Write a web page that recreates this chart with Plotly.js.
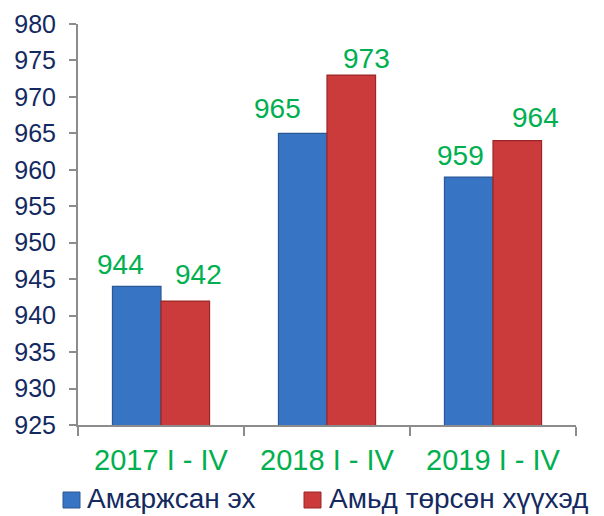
<!DOCTYPE html>
<html>
<head>
<meta charset="utf-8">
<script src="https://cdn.plot.ly/plotly-3.0.1.min.js"></script>
<style>html,body{margin:0;padding:0;background:#fff;}#chart{width:604px;height:516px;}</style>
</head>
<body>
<div id="chart"></div>
<script>
const categories = ["2017 I - IV", "2018 I - IV", "2019 I - IV"];
const seriesNames = ["Амаржсан эх", "Амьд төрсөн хүүхэд"];
const mothers = [944, 965, 959];
const liveBirths = [942, 973, 964];

// label placement tweaks (pixels), matching the reference's label positions
const labelDX = [[-41, -50, -33], [37, 39, 42]];
const labelGap = [[13, 16, 13], [18, 8, 15]];

const FONT = '"Liberation Sans", Arial, sans-serif';
const NAVY = '#14295f';
const GREEN = '#00b050';
const FILL = ['#3874c4', '#cb3b3b'];
const EDGE = ['#2a5896', '#9c2727'];

const W = 604, H = 516;
const M = {l: 78, r: 28, t: 24, b: 91};
const PW = W - M.l - M.r, PH = H - M.t - M.b;
const px = v => (v - M.l) / PW;       // pixel -> paper x
const py = v => (H - M.b - v) / PH;   // pixel -> paper y

const traces = [mothers, liveBirths].map((vals, s) => ({
  type: 'bar', name: seriesNames[s], x: categories, y: vals,
  marker: {color: FILL[s], line: {color: EDGE[s], width: 1.2}}
}));

const annotations = [];
[mothers, liveBirths].forEach((vals, s) => {
  vals.forEach((v, i) => {
    annotations.push({
      x: categories[i], y: v, xref: 'x', yref: 'y',
      text: String(v), showarrow: false,
      xanchor: 'center', yanchor: 'bottom',
      xshift: labelDX[s][i], yshift: labelGap[s][i] - 9,
      font: {family: FONT, size: 28, color: GREEN}
    });
  });
});

// legend (drawn manually to match the reference's spacing)
const legendBox = [[63, 80], [304, 321]];
const legendText = [86, 328];
const shapes = [];
seriesNames.forEach((name, s) => {
  shapes.push({
    type: 'rect', xref: 'paper', yref: 'paper',
    x0: px(legendBox[s][0]), x1: px(legendBox[s][1]), y0: py(508), y1: py(492),
    fillcolor: FILL[s], line: {color: EDGE[s], width: 1}
  });
  annotations.push({
    xref: 'paper', yref: 'paper', x: px(legendText[s]), y: py(515),
    xanchor: 'left', yanchor: 'bottom', showarrow: false, text: name,
    borderpad: 0,
    font: {family: FONT, size: 28, color: NAVY}
  });
});

const layout = {
  width: W, height: H,
  margin: {l: M.l, r: M.r, t: M.t, b: M.b, autoexpand: false},
  paper_bgcolor: '#fff', plot_bgcolor: '#fff',
  barmode: 'group', bargap: 0.415, bargroupgap: 0,
  font: {family: FONT},
  showlegend: false,
  xaxis: {
    type: 'category', showgrid: false, zeroline: false,
    showline: true, linecolor: '#8c8c8c', linewidth: 2,
    ticks: 'outside', tickson: 'boundaries', ticklen: 9, tickwidth: 2, tickcolor: '#8c8c8c',
    tickfont: {family: FONT, size: 29, color: GREEN},
    ticklabelstandoff: 8
  },
  yaxis: {
    range: [925, 980], autorange: false, dtick: 5, tick0: 925,
    showgrid: false, zeroline: false,
    showline: true, linecolor: '#8c8c8c', linewidth: 2,
    ticks: 'outside', ticklen: 7, tickwidth: 2, tickcolor: '#8c8c8c',
    tickfont: {family: FONT, size: 25, color: NAVY},
    ticklabelstandoff: 8
  },
  shapes: shapes,
  annotations: annotations
};

Plotly.newPlot('chart', traces, layout, {displayModeBar: false, staticPlot: true});
</script>
</body>
</html>
